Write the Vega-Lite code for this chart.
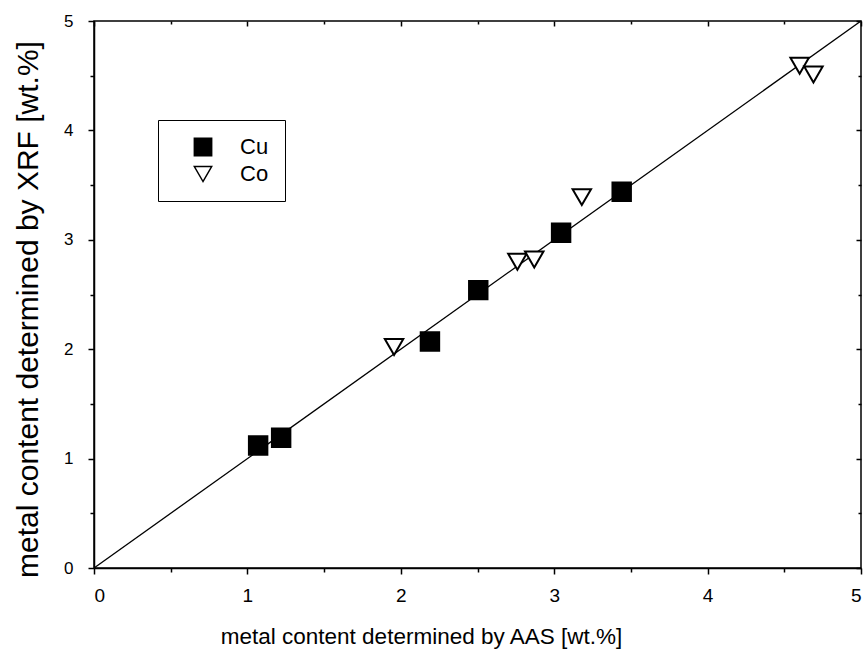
{
  "$schema": "https://vega.github.io/schema/vega-lite/v6.json",
  "width": 767,
  "height": 547,
  "autosize": "none",
  "padding": {"left": 94, "top": 21, "right": 5, "bottom": 83},
  "background": "white",
  "config": {
    "font": "Liberation Sans",
    "view": {"stroke": "black", "strokeWidth": 1.5},
    "axis": {"grid": false, "domainColor": "black", "tickColor": "black", "labelColor": "black", "titleColor": "black", "labelFont": "Liberation Sans", "titleFont": "Liberation Sans", "labelFontSize": 19, "titleFontSize": 22, "titleFontWeight": "normal", "domainWidth": 1.5, "tickWidth": 1.5}
  },
  "datasets": {
    "pts": [
      {"AAS": 1.07, "XRF": 1.12, "metal": "Cu"},
      {"AAS": 1.22, "XRF": 1.19, "metal": "Cu"},
      {"AAS": 2.19, "XRF": 2.07, "metal": "Cu"},
      {"AAS": 2.505, "XRF": 2.54, "metal": "Cu"},
      {"AAS": 3.045, "XRF": 3.065, "metal": "Cu"},
      {"AAS": 3.44, "XRF": 3.44, "metal": "Cu"},
      {"AAS": 1.956, "XRF": 2.02, "metal": "Co"},
      {"AAS": 2.76, "XRF": 2.8, "metal": "Co"},
      {"AAS": 2.87, "XRF": 2.82, "metal": "Co"},
      {"AAS": 3.18, "XRF": 3.39, "metal": "Co"},
      {"AAS": 4.6, "XRF": 4.59, "metal": "Co"},
      {"AAS": 4.69, "XRF": 4.51, "metal": "Co"}
    ],
    "fit": [
      {"AAS": 0, "XRF": 0},
      {"AAS": 5, "XRF": 5}
    ]
  },
  "layer": [
    {
      "data": {"name": "fit"},
      "mark": {"type": "line", "color": "black", "strokeWidth": 1.3, "clip": true},
      "encoding": {
        "x": {"field": "AAS", "type": "quantitative", "scale": {"domain": [0, 5], "nice": false},
          "axis": {"orient": "top", "values": [0,0.5,1,1.5,2,2.5,3,3.5,4,4.5,5], "labels": false, "title": null, "domain": false,
            "tickSize": {"condition": {"test": "datum.value % 1 === 0", "value": -5}, "value": -3}}},
        "y": {"field": "XRF", "type": "quantitative", "scale": {"domain": [0, 5], "nice": false},
          "axis": {"orient": "right", "values": [0,0.5,1,1.5,2,2.5,3,3.5,4,4.5,5], "labels": false, "title": null, "domain": false,
            "tickSize": {"condition": {"test": "datum.value % 1 === 0", "value": -5}, "value": -3}}}
      }
    },
    {
      "data": {"name": "pts"},
      "mark": {"type": "point", "filled": true, "stroke": "black", "strokeWidth": 2, "opacity": 1},
      "encoding": {
        "x": {"field": "AAS", "type": "quantitative", "scale": {"domain": [0, 5], "nice": false},
          "axis": {"orient": "bottom", "values": [0,0.5,1,1.5,2,2.5,3,3.5,4,4.5,5],
            "labelExpr": "datum.value % 1 === 0 ? format(datum.value, 'd') : ''",
            "tickSize": {"condition": {"test": "datum.value % 1 === 0", "value": 6}, "value": 4},
            "labelFontSize": 19, "labelPadding": 12, "title": "metal content determined by AAS [wt.%]", "titlePadding": 20, "titleX": 327, "titleFontSize": 22.5}},
        "y": {"field": "XRF", "type": "quantitative", "scale": {"domain": [0, 5], "nice": false},
          "axis": {"orient": "left", "values": [0,0.5,1,1.5,2,2.5,3,3.5,4,4.5,5],
            "labelExpr": "datum.value % 1 === 0 ? format(datum.value, 'd') : ''",
            "tickSize": {"condition": {"test": "datum.value % 1 === 0", "value": 6}, "value": 4},
            "labelFontSize": 17, "labelPadding": 15, "title": "metal content determined by XRF [wt.%]", "titlePadding": 20, "titleFontSize": 30, "titleY": 288}},
        "shape": {"field": "metal", "type": "nominal", "scale": {"domain": ["Cu", "Co"], "range": ["square", "triangle-down"]},
          "legend": {"title": null, "orient": "none", "legendX": 64, "legendY": 99, "strokeColor": "black", "fillColor": "white", "padding": 16, "symbolOffset": 18,
            "labelFontSize": 22, "labelOffset": 26, "rowPadding": 4, "symbolSize": 300,
            "encode": {
              "symbols": {"update": {"fill": {"signal": "datum.value === 'Cu' ? 'black' : 'white'"}, "stroke": {"value": "black"}, "strokeWidth": {"value": 2}, "opacity": {"value": 1}}},
              "labels": {"update": {"fontSize": {"value": 22}, "fill": {"value": "black"}, "font": {"value": "Liberation Sans"}}}
            }}},
        "fill": {"field": "metal", "type": "nominal", "scale": {"domain": ["Cu", "Co"], "range": ["black", "white"]}, "legend": null},
        "size": {"value": 340}
      }
    }
  ],
  "resolve": {"axis": {"x": "independent", "y": "independent"}}
}
